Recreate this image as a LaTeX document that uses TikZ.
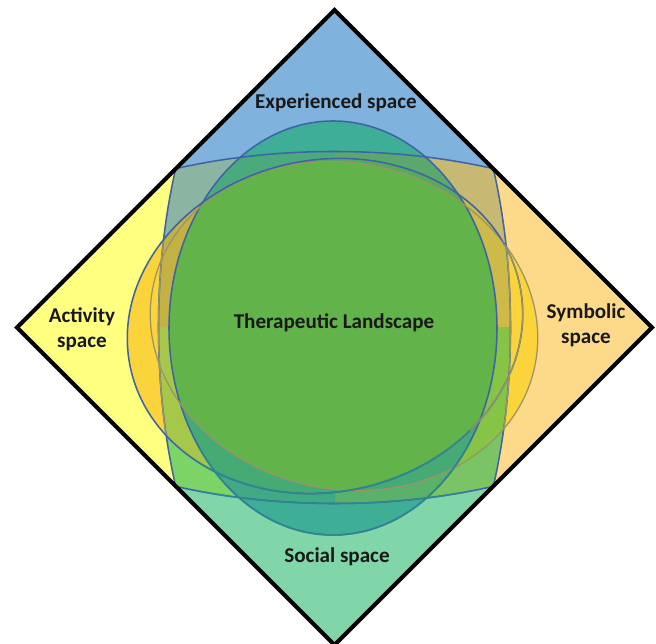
\documentclass[tikz,border=0pt]{standalone}
\usepackage{fontspec}
\setmainfont{Carlito}

% quadrant colours
\definecolor{expblue}{HTML}{7FB2DC}
\definecolor{socteal}{HTML}{80D6A8}
\definecolor{actyellow}{HTML}{FFFF80}
\definecolor{symorange}{HTML}{FDD98A}
\definecolor{gold}{HTML}{FAD43A}
% overlaps inside the rounded square
\definecolor{mixTL}{HTML}{8BB5A2}
\definecolor{mixTR}{HTML}{C8B972}
\definecolor{mixBL}{HTML}{7DD466}
\definecolor{mixBR}{HTML}{7AC466}
\definecolor{oliveTL}{HTML}{C2B143}
\definecolor{oliveTR}{HTML}{CDBA47}
\definecolor{oliveBL}{HTML}{A6C84A}
\definecolor{oliveBR}{HTML}{86C445}
\definecolor{capteal}{HTML}{3FAE96}
\definecolor{rimTL}{HTML}{4BA97E}
\definecolor{rimTR}{HTML}{5AA86C}
\definecolor{rimBL}{HTML}{3FAA84}
\definecolor{rimBR}{HTML}{5BB06A}
\definecolor{bandtop}{HTML}{57A95C}
\definecolor{bandbot}{HTML}{46AA74}
\definecolor{landgreen}{HTML}{62B34A}
% outlines
\definecolor{lineblue}{HTML}{3F63A8}
\definecolor{lineteal}{HTML}{2E8790}
\definecolor{linegray}{HTML}{9C9466}

% shapes (1 unit = 1 px)
\newcommand{\frameshape}{(334.5,633) -- (652,315.5) -- (334.5,-2) -- (17,315.5) -- cycle}
\newcommand{\wideshape}{(334.5,315.5) ellipse [x radius=368, y radius=176]}
\newcommand{\tallshape}{(334.5,315.5) ellipse [x radius=176, y radius=368]}
\newcommand{\innershape}{(333,315) ellipse [x radius=164, y radius=207]}
\newcommand{\actshape}{(325,317) ellipse [x radius=199, y radius=166, rotate=12]}
\newcommand{\symshape}{(344,317) ellipse [x radius=195, y radius=163, rotate=-12]}

\begin{document}
\begin{tikzpicture}[
      x=0.025cm, y=0.025cm,
      spacelabel/.style={font=\bfseries\fontsize{15}{18}\selectfont, align=center, text=black!90},
      ring/.style={draw=lineblue, line width=1.1pt},
      faintring/.style={draw=linegray, line width=0.9pt},
      rim/.style={draw=black, line width=2.9pt, line join=miter}
    ]
      \useasboundingbox (0,0) rectangle (656,643);

      \begin{scope}
        \clip \frameshape;

        % === QUADRANTS ===
        \fill[expblue] (0,315.5) rectangle (656,643);
        \fill[socteal] (0,0) rectangle (656,315.5);
        \begin{scope}
          \clip \wideshape;
          \fill[actyellow] (0,0) rectangle (334.5,643);
          \fill[symorange] (334.5,0) rectangle (656,643);
          % gold side lenses
          \begin{scope}
            \clip \actshape \symshape;
            \fill[gold] (0,0) rectangle (656,643);
          \end{scope}
          % rounded square in the middle
          \begin{scope}
            \clip \tallshape;
            \fill[mixTL] (0,315.5) rectangle (334.5,643);
            \fill[mixTR] (334.5,315.5) rectangle (656,643);
            \fill[mixBL] (0,0) rectangle (334.5,315.5);
            \fill[mixBR] (334.5,0) rectangle (656,315.5);
            \begin{scope}
              \clip \actshape \symshape;
              \fill[oliveTL] (0,315.5) rectangle (334.5,643);
              \fill[oliveTR] (334.5,315.5) rectangle (656,643);
              \fill[oliveBL] (0,0) rectangle (334.5,315.5);
              \fill[oliveBR] (334.5,0) rectangle (656,315.5);
            \end{scope}
          \end{scope}
        \end{scope}

        % === INNER TALL ELLIPSE ===
        \begin{scope}
          \clip \innershape;
          \fill[capteal] (0,0) rectangle (656,643);
          \begin{scope}
            \clip \wideshape;
            \fill[rimTL] (0,315.5) rectangle (334.5,643);
            \fill[rimTR] (334.5,315.5) rectangle (656,643);
            \fill[rimBL] (0,0) rectangle (334.5,315.5);
            \fill[rimBR] (334.5,0) rectangle (656,315.5);
            \begin{scope}
              \clip \actshape \symshape;
              \fill[bandtop] (0,315.5) rectangle (656,643);
              \fill[bandbot] (0,0) rectangle (656,315.5);
              % common core
              \clip \actshape;
              \clip \symshape;
              \fill[landgreen] (0,0) rectangle (656,643);
            \end{scope}
          \end{scope}
        \end{scope}

        % === OUTLINES ===
        \draw[ring] \wideshape;
        \draw[ring] \tallshape;
        \begin{scope}
          \clip \actshape \symshape;
          \draw[faintring] \tallshape;
        \end{scope}
        \draw[ring] \innershape;
        \draw[faintring] \symshape;
        \draw[ring] \actshape;
        \begin{scope}
          \clip (440,0) rectangle (656,643);
          \clip \symshape;
          \draw[faintring] \actshape;
        \end{scope}
        % lower arcs look teal
        \begin{scope}
          \clip (200,0) rectangle (470,213);
          \draw[ring, lineteal] \wideshape \innershape \actshape;
        \end{scope}
      \end{scope}

      % frame
      \draw[rim] \frameshape;

      % === LABELS ===
      \node[spacelabel] (exp) at (336,540) {Experienced space};
      \node[spacelabel] (act) at (82,314) {Activity\\space};
      \node[spacelabel] (sym) at (586,318) {Symbolic\\space};
      \node[spacelabel] (soc) at (337,86) {Social space};
      \node[spacelabel] (land) at (334,320) {Therapeutic Landscape};
    \end{tikzpicture}
\end{document}
